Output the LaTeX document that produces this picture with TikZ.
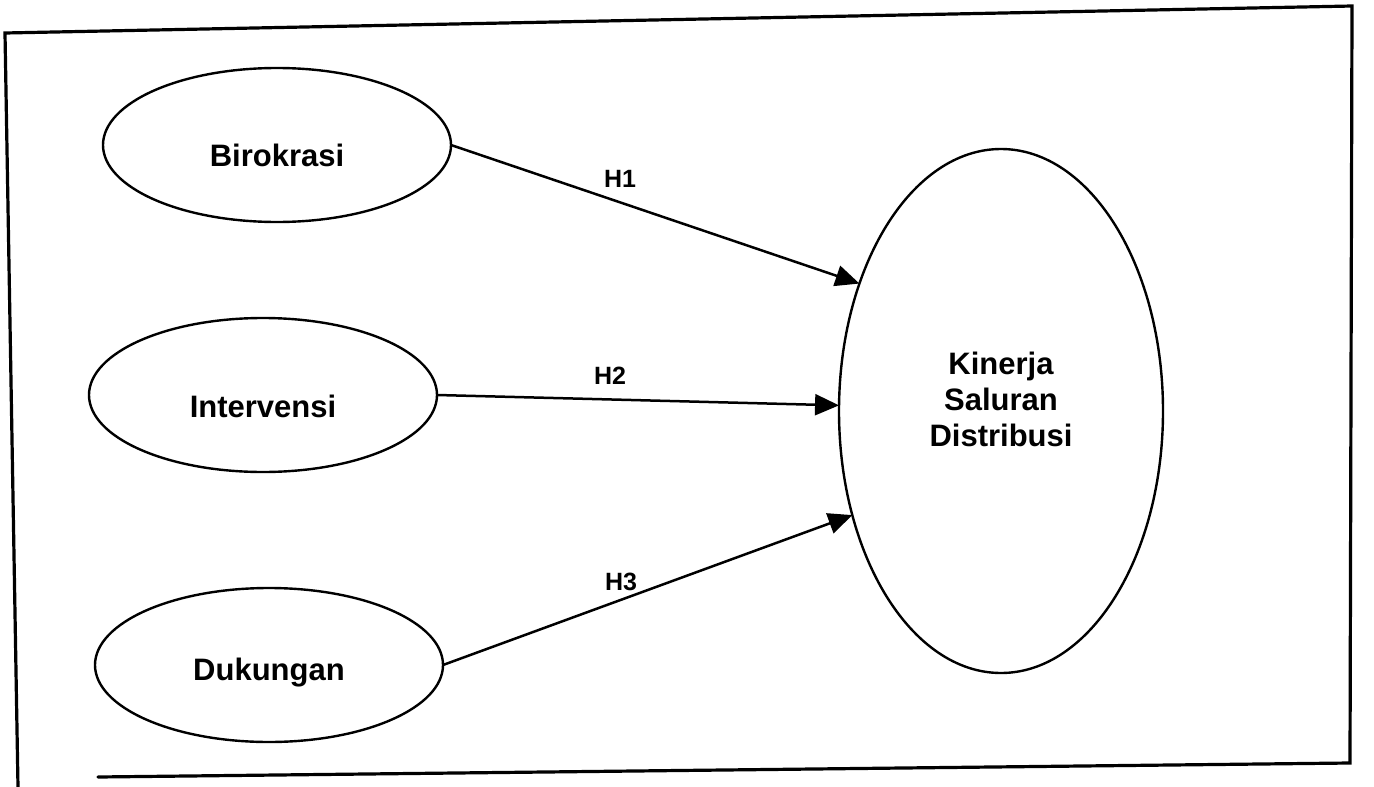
\documentclass[tikz,border=0pt]{standalone}
\usepackage{fontspec}
\setmainfont{Liberation Sans}
\usetikzlibrary{shapes.geometric,arrows.meta}

\tikzset{
  construct/.style={ellipse, draw, line width=2.4pt, inner sep=0pt, outer sep=0pt,
    minimum width=348pt, minimum height=154pt},
  constructtext/.style={font=\fontsize{31}{36}\selectfont\bfseries, align=center},
  path link/.style={line width=2.5pt, -{Triangle[length=24pt,width=21pt]}},
  hyp/.style={font=\fontsize{25}{28}\selectfont\bfseries, inner sep=0pt},
  frameline/.style={line width=3.2pt, line cap=round, line join=miter}
}

\begin{document}
\begin{tikzpicture}[x=1pt, y=-1pt]
  \useasboundingbox (0,0) rectangle (1374,787);

  % surrounding frame
  \coordinate (f1) at (5,33);
  \coordinate (f2) at (1352,6);
  \coordinate (f3) at (1350,763);
  \coordinate (f4) at (98,777);
  \coordinate (f5) at (18,787);
  \draw[frameline] (f5) -- (f1) -- (f2) -- (f3) -- (f4);

  % exogenous constructs
  \node[construct, label={[constructtext, yshift=-10pt]center:Birokrasi}] (bir) at (277,145) {};
  \node[construct, label={[constructtext, yshift=-11pt]center:Intervensi}] (int) at (263,395) {};
  \node[construct, label={[constructtext, yshift=-8pt]center:Dukungan}] (duk) at (269,665) {};

  % endogenous construct
  \node[construct, minimum width=324pt, minimum height=524pt,
        label={[constructtext, yshift=12pt]center:Kinerja\\Saluran\\Distribusi}] (kin) at (1001,411) {};

  % hypothesised paths
  \draw[path link] (bir.east) -- (kin.138.5);
  \draw[path link] (int.east) -- (kin.178.6);
  \draw[path link] (duk.east) -- (kin.215.4);

  \node[hyp] (h1) at (620,179) {H1};
  \node[hyp] (h2) at (610,376) {H2};
  \node[hyp] (h3) at (621,582) {H3};
\end{tikzpicture}
\end{document}
